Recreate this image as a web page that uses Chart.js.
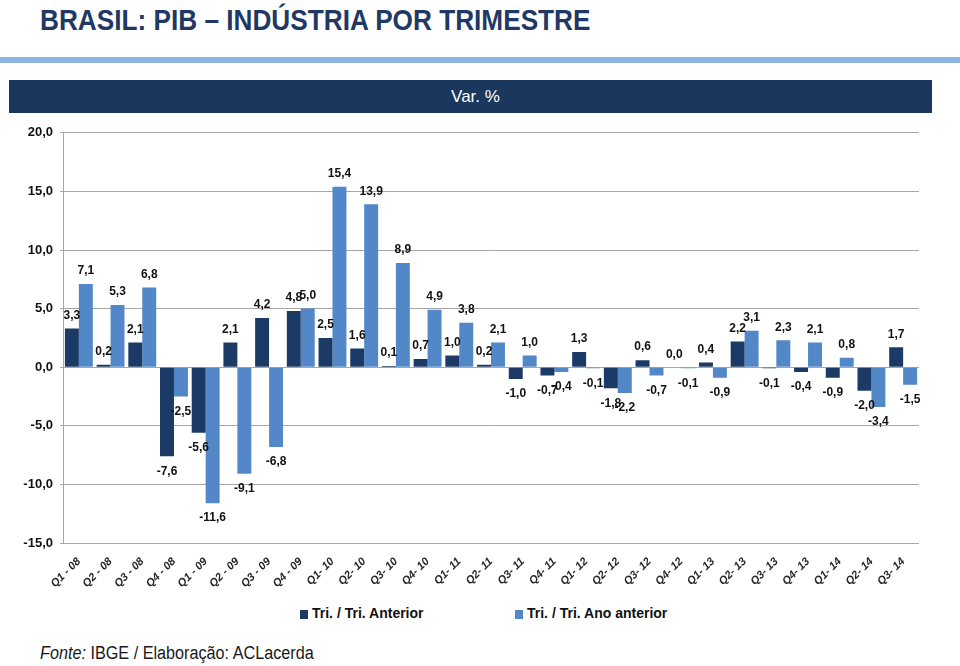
<!DOCTYPE html>
<html><head><meta charset="utf-8">
<script src="https://cdn.jsdelivr.net/npm/chart.js@4.4.1/dist/chart.umd.min.js"></script>
<style>
html,body{margin:0;padding:0;background:#fff;width:960px;height:666px;overflow:hidden;}
body{position:relative;font-family:"Liberation Sans",Arial,sans-serif;}
#title{position:absolute;left:40px;top:5px;font-size:30px;line-height:30px;font-weight:bold;color:#1f3864;white-space:nowrap;transform:scaleX(0.873);transform-origin:0 0;}
#stripe{position:absolute;left:0;top:57px;width:960px;height:6px;background:#8db4e2;}
#hdr{position:absolute;left:9px;top:80px;width:923px;height:33px;background:#1c375e;color:#fff;font-size:17px;line-height:33px;text-align:center;}
#hdr span{position:relative;left:5px;}
#wrap{position:absolute;left:0;top:118px;width:960px;height:480px;}
#legend{position:absolute;top:604px;left:0;width:960px;height:18px;font-size:14px;line-height:18px;font-weight:bold;color:#111;}
#legend .it{position:absolute;top:0;white-space:nowrap;}
#legend .sw{display:inline-block;width:8px;height:9px;margin-right:4px;vertical-align:-1px;}
#foot{position:absolute;left:40px;top:644px;font-size:18px;line-height:18px;color:#1a1a1a;white-space:nowrap;transform:scaleX(0.9);transform-origin:0 0;}
</style>
</head><body>
<div id="title">BRASIL: PIB – INDÚSTRIA POR TRIMESTRE</div>
<div id="stripe"></div>
<div id="hdr"><span>Var. %</span></div>
<div id="wrap"><canvas id="c" width="960" height="480"></canvas></div>
<div id="legend">
  <div class="it" style="left:300px"><span class="sw" style="background:#1b3a66"></span>Tri. / Tri. Anterior</div>
  <div class="it" style="left:515px"><span class="sw" style="background:#5288c8"></span>Tri. / Tri. Ano anterior</div>
</div>
<div id="foot"><i>Fonte:</i> IBGE / Elaboração: ACLacerda</div>
<script>
const categories = ["Q1 - 08","Q2 - 08","Q3 - 08","Q4 - 08","Q1 - 09","Q2 - 09","Q3 - 09","Q4 - 09",
  "Q1- 10","Q2- 10","Q3- 10","Q4- 10","Q1- 11","Q2- 11","Q3- 11","Q4- 11",
  "Q1- 12","Q2- 12","Q3- 12","Q4- 12","Q1- 13","Q2- 13","Q3- 13","Q4- 13",
  "Q1- 14","Q2- 14","Q3- 14"];
const triAnterior = [3.3,0.2,2.1,-7.6,-5.6,2.1,4.2,4.8,
  2.5,1.6,0.1,0.7,1.0,0.2,-1.0,-0.7,
  1.3,-1.8,0.6,0.0,0.4,2.2,-0.1,-0.4,
  -0.9,-2.0,1.7];
const triAnoAnterior = [7.1,5.3,6.8,-2.5,-11.6,-9.1,-6.8,5.0,
  15.4,13.9,8.9,4.9,3.8,2.1,1.0,-0.4,
  -0.1,-2.2,-0.7,-0.1,-0.9,3.1,2.3,2.1,
  0.8,-3.4,-1.5];
const seriesNames = ["Tri. / Tri. Anterior","Tri. / Tri. Ano anterior"];
const yTicks = [-15,-10,-5,0,5,10,15,20];

const fmt = v => v.toFixed(1).replace('.', ',');

const valueLabels = {
  id: 'valueLabels',
  afterDatasetsDraw(chart) {
    const ctx = chart.ctx;
    ctx.save();
    ctx.font = 'bold 12px "Liberation Sans",Arial,sans-serif';
    ctx.fillStyle = '#111';
    ctx.textAlign = 'center';
    ctx.textBaseline = 'middle';
    chart.data.datasets.forEach((ds, di) => {
      const meta = chart.getDatasetMeta(di);
      meta.data.forEach((el, i) => {
        const v = ds.data[i];
        const y = v >= 0 ? Math.min(el.y, el.base) - 13 : Math.max(el.y, el.base) + 15;
        ctx.fillText(fmt(v), el.x, y);
      });
    });
    ctx.restore();
  }
};

new Chart(document.getElementById('c'), {
  type: 'bar',
  data: {
    labels: categories,
    datasets: [
      {label: seriesNames[0], data: triAnterior, backgroundColor: '#1b3a66', categoryPercentage: 0.88, barPercentage: 1.0},
      {label: seriesNames[1], data: triAnoAnterior, backgroundColor: '#5288c8', categoryPercentage: 0.88, barPercentage: 1.0}
    ]
  },
  options: {
    responsive: false,
    animation: false,
    layout: {padding: {top: 10, right: 41, left: 0, bottom: 0}},
    plugins: {legend: {display: false}, tooltip: {enabled: false}},
    scales: {
      x: {
        grid: {display: false},
        border: {display: false},
        ticks: {
          minRotation: 45, maxRotation: 45, autoSkip: false,
          color: '#262626',
          font: {family: '"Liberation Sans",Arial,sans-serif', size: 11, weight: 'bold', style: 'italic'},
          padding: 4
        },
        afterFit(s) { s.height = 55; }
      },
      y: {
        min: -15, max: 20,
        afterBuildTicks(s) { s.ticks = yTicks.map(v => ({value: v})); },
        grid: {color: '#a6a6a6', lineWidth: 1, tickLength: 3},
        border: {color: '#a6a6a6'},
        ticks: {
          color: '#111',
          font: {family: '"Liberation Sans",Arial,sans-serif', size: 13, weight: 'bold'},
          padding: 7,
          callback: v => fmt(v)
        },
        afterFit(s) { s.width = 63; }
      }
    }
  },
  plugins: [valueLabels]
});
</script>
</body></html>
